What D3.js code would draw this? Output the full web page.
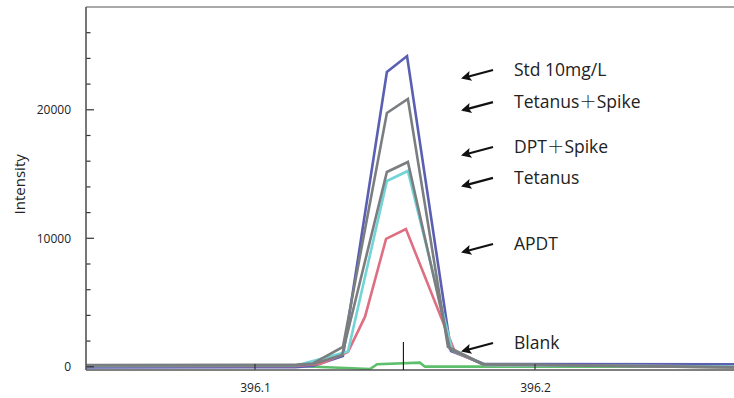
<!DOCTYPE html>
<html>
<head>
<meta charset="utf-8">
<script src="https://cdn.jsdelivr.net/npm/d3@7"></script>
<style>
  html, body { margin: 0; padding: 0; background: #fff; }
  svg { display: block; }
  text { font-family: "Open Sans", "Noto Sans", sans-serif; fill: #222; }
</style>
</head>
<body>
<svg id="chart" width="734" height="398"></svg>
<script>
// Wavelength (nm) / intensity profiles around the Al 396.15 nm line
const wlStd   = [396.0375, 396.1143, 396.1207, 396.1314, 396.1471, 396.1543, 396.1700, 396.1818, 396.2732];
const intStd  = [-55, -30, 60, 840, 22940, 24180, 1230, 220, 195];

const wlTetSpike  = [396.0375, 396.1143, 396.1207, 396.1314, 396.1471, 396.1546, 396.1689, 396.1814, 396.2732];
const intTetSpike = [140, 150, 257, 1540, 19750, 20840, 1540, 220, -55];

const wlDptSpike  = [396.0375, 396.1143, 396.1207, 396.1311, 396.1471, 396.1546, 396.1696, 396.1814, 396.2732];
const intDptSpike = [100, 110, 220, 920, 15160, 15940, 1385, 180, -55];

const wlTetanus  = [396.0375, 396.1143, 396.1207, 396.1332, 396.1471, 396.1546, 396.1704, 396.1821, 396.2732];
const intTetanus = [60, 80, 450, 1190, 14460, 15240, 1310, 140, 20];

const wlApdt  = [396.0375, 396.1143, 396.1232, 396.1332, 396.1393, 396.1468, 396.1539, 396.1714, 396.1821, 396.2732];
const intApdt = [60, 70, 220, 1150, 3900, 9950, 10720, 1150, 140, 20];

const wlBlank  = [396.0375, 396.1150, 396.1411, 396.1436, 396.1589, 396.1607, 396.2732];
const intBlank = [100, 60, -170, 195, 320, 10, 10];

const seriesNames  = ["Blank", "Std 10mg/L", "APDT", "Tetanus", "DPT＋Spike", "Tetanus＋Spike"];
const seriesColors = ["#5dbf6b", "#5a5fb2", "#de6f83", "#72d4d6", "#7b7e80", "#7b7e80"];

// Annotation rows (label, intensity level of the label)
const labelTexts  = ["Std 10mg/L", "Tetanus＋Spike", "DPT＋Spike", "Tetanus", "APDT", "Blank"];
const labelLevels = [23100, 20600, 17100, 14700, 9560, 1850];

const yMajorTicks = [0, 10000, 20000];
const yMinorTicks = [2000, 4000, 6000, 8000, 12000, 14000, 16000, 18000, 22000, 24000, 26000];
const xTicks = [396.1, 396.2];
const xTickLabels = ["396.1", "396.2"];
const peakMarker = 396.153;

const W = 734, H = 398;
const m = { left: 86, top: 7, right: 0, bottom: 28 };
const plotW = W - m.left - m.right;
const plotH = H - m.top - m.bottom;

const x = d3.scaleLinear().domain([396.03964, 396.27107]).range([0, plotW]);
const y = d3.scaleLinear().domain([-250, 28000]).range([plotH, 0]);

const svg = d3.select("#chart");
const defs = svg.append("defs");
const g = svg.append("g").attr("transform", `translate(${m.left},${m.top})`);

defs.append("clipPath").attr("id", "plotclip")
  .append("rect").attr("x", 0).attr("y", 0).attr("width", plotW).attr("height", plotH);

// Frame: top rule in grey
g.append("line")
  .attr("x1", 0).attr("x2", plotW).attr("y1", 0).attr("y2", 0)
  .attr("stroke", "#8c8c8c").attr("stroke-width", 1.6);

// Series
const wls  = [wlBlank, wlStd, wlApdt, wlTetanus, wlDptSpike, wlTetSpike];
const ints = [intBlank, intStd, intApdt, intTetanus, intDptSpike, intTetSpike];
const line = d3.line().x(d => x(d[0])).y(d => y(d[1]));
const lines = g.append("g").attr("clip-path", "url(#plotclip)");
seriesNames.forEach((name, i) => {
  const pts = wls[i].map((w, j) => [w, ints[i][j]]);
  lines.append("path")
    .datum(pts)
    .attr("d", line)
    .attr("fill", "none")
    .attr("stroke", seriesColors[i])
    .attr("stroke-width", 2.6)
    .attr("stroke-linejoin", "miter")
    .attr("class", "series")
    .attr("data-name", name);
});

// Y axis
const yAxis = g.append("g");
yAxis.append("g")
  .call(d3.axisLeft(y).tickValues(yMajorTicks).tickFormat(d3.format("d")).tickSize(0).tickPadding(15))
  .call(s => s.select(".domain").remove())
  .call(s => s.selectAll("text").attr("font-size", 12).attr("fill", "#222")
    .style("font-family", "'Open Sans', sans-serif"));
yAxis.selectAll(".ymaj").data(yMajorTicks).join("line")
  .attr("x1", 0).attr("x2", 8).attr("y1", d => y(d)).attr("y2", d => y(d))
  .attr("stroke", "#333").attr("stroke-width", 1.2);
yAxis.selectAll(".ymin").data(yMinorTicks).join("line")
  .attr("x1", 0).attr("x2", 4.5).attr("y1", d => y(d)).attr("y2", d => y(d))
  .attr("stroke", "#333").attr("stroke-width", 1.2);
g.append("line")
  .attr("x1", 0).attr("x2", 0).attr("y1", 0).attr("y2", plotH)
  .attr("stroke", "#555").attr("stroke-width", 1.6);

// X axis
const xAxis = g.append("g").attr("transform", `translate(0,${plotH})`);
xAxis.call(d3.axisBottom(x).tickValues(xTicks).tickFormat((d, i) => xTickLabels[i]).tickSize(0).tickPadding(13))
  .call(s => s.select(".domain").remove())
  .call(s => s.selectAll("text").attr("font-size", 12).attr("fill", "#222")
    .style("font-family", "'Open Sans', sans-serif"));
xAxis.selectAll(".xt").data(xTicks).join("line")
  .attr("x1", d => x(d)).attr("x2", d => x(d)).attr("y1", 0).attr("y2", -6)
  .attr("stroke", "#333").attr("stroke-width", 1.2);
g.append("line")
  .attr("x1", 0).attr("x2", plotW).attr("y1", plotH).attr("y2", plotH)
  .attr("stroke", "#555").attr("stroke-width", 1.6);

// Peak position marker
g.append("line")
  .attr("x1", x(peakMarker)).attr("x2", x(peakMarker))
  .attr("y1", plotH - 28).attr("y2", plotH)
  .attr("stroke", "#111").attr("stroke-width", 1.1);

// Y axis title
svg.append("text")
  .attr("transform", `translate(25,${m.top + y(14200)}) rotate(-90)`)
  .attr("text-anchor", "middle")
  .attr("font-size", 15)
  .attr("fill", "#333")
  .text("Intensity");

// Annotations with arrows
defs.append("marker")
  .attr("id", "arrowhead")
  .attr("viewBox", "0 0 10 10")
  .attr("refX", 8).attr("refY", 5)
  .attr("markerWidth", 6).attr("markerHeight", 4.6)
  .attr("markerUnits", "strokeWidth")
  .attr("orient", "auto")
  .append("path").attr("d", "M0,0 L10,5 L0,10 L2,5 Z").attr("fill", "#111");

const ann = g.append("g");
const labelX = x(396.1925);
labelTexts.forEach((t, i) => {
  const cy = y(labelLevels[i]);
  ann.append("line")
    .attr("x1", labelX - 21).attr("y1", cy)
    .attr("x2", labelX - 51).attr("y2", cy + 8)
    .attr("stroke", "#111").attr("stroke-width", 2.2)
    .attr("marker-end", "url(#arrowhead)");
  const txt = ann.append("text")
    .attr("x", labelX).attr("y", cy)
    .attr("dy", "0.35em")
    .attr("font-size", 17.5)
    .attr("fill", "#111");
  // full-width plus sign set in a CJK face
  t.split(/(＋)/).forEach(part => {
    if (!part) return;
    const ts = txt.append("tspan").text(part);
    if (part === "＋") ts.style("font-family", "'Noto Sans CJK JP', sans-serif").attr("font-weight", 300);
  });
});
</script>
</body>
</html>
